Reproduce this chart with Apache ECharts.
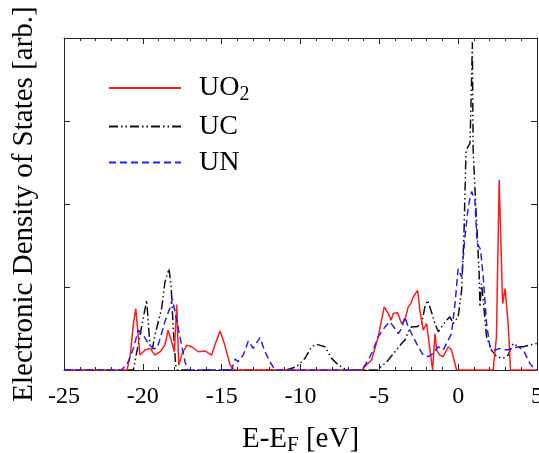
<!DOCTYPE html>
<html>
<head>
<meta charset="utf-8">
<script src="https://cdn.jsdelivr.net/npm/echarts@6/dist/echarts.min.js"></script>
<style>
  html, body { margin: 0; padding: 0; background: #fff; }
  #chart { width: 539px; height: 453px; }
</style>
</head>
<body>
<div id="chart"></div>
<script>
// energies (eV relative to E_F) and DOS values
const uo2E = [-25, -21.0, -20.8, -20.6, -20.45, -20.18, -19.86, -19.55, -19.23, -18.9, -18.6, -18.4, -18.17, -18.0, -17.85, -17.72, -17.5, -17.2, -16.9, -16.48, -16.06, -15.63, -15.43, -15.1, -14.8, -14.47, -14.2,
  -6.12, -5.49, -5.07, -4.69, -4.43, -4.26, -4.12, -3.84, -3.59, -3.38, -3.17, -3.0, -2.85, -2.57, -2.43, -2.22, -2.0, -1.79, -1.62, -1.47, -1.37, -1.16, -0.95, -0.63, -0.42, -0.1,
  2.22, 2.43, 2.6, 2.82, 2.98, 3.17, 3.32, 5];
const uo2DOS = [0, 0, 0.18, 0.55, 0.74, 0.18, 0.24, 0.26, 0.18, 0.22, 0.30, 0.48, 0.34, 0.22, 0.79, 0.06, 0.2, 0.30, 0.28, 0.22, 0.23, 0.18, 0.30, 0.47, 0.30, 0.06, 0,
  0, 0.12, 0.4, 0.76, 0.68, 0.6, 0.68, 0.69, 0.56, 0.6, 0.76, 0.8, 0.88, 0.96, 0.72, 0.48, 0.56, 0.24, 0, 0.44, 0.24, 0.18, 0.16, 0.28, 0.24, 0,
  0, 0.4, 2.29, 0.8, 0.98, 0.56, 0, 0];

const ucE = [-25, -20.6, -20.3, -20.0, -19.76, -19.55, -19.4, -19.23, -18.8, -18.6, -18.34, -18.2, -18.07, -17.92, -17.8,
  -10.9, -10.25, -9.72, -9.3, -8.98, -8.45, -8.03, -7.6, -7.07,
  -5.17, -4.75, -4.43, -4.01, -3.59, -3.38, -3.17, -2.95, -2.64, -2.32, -2.11, -1.94, -1.73, -1.47, -1.26, -1.05, -0.74, -0.52, -0.31, 0.0, 0.22, 0.37, 0.5, 0.6, 0.75, 0.8, 0.85, 0.9, 0.95, 1.15, 1.33, 1.38, 1.48, 1.59, 1.8, 2.12, 2.43, 2.86, 3.17, 3.49, 3.81, 4.13, 4.55, 5];
const ucDOS = [0, 0, 0.3, 0.6, 0.84, 0.3, 0.25, 0.42, 0.75, 1.06, 1.22, 0.99, 0.5, 0.06, 0,
  0, 0.04, 0.14, 0.28, 0.31, 0.28, 0.14, 0.06, 0,
  0, 0.06, 0.12, 0.22, 0.32, 0.36, 0.46, 0.52, 0.52, 0.56, 0.76, 0.84, 0.72, 0.56, 0.46, 0.52, 0.6, 0.64, 0.56, 0.64, 0.96, 1.65, 2.65, 2.67, 2.73, 3.1, 3.5, 3.95, 2.65, 1.85, 1.16, 0.76, 1.04, 0.84, 0.4, 0.24, 0.16, 0.14, 0.18, 0.32, 0.28, 0.28, 0.3, 0.32];

const unE = [-25, -21.34, -20.92, -20.6, -20.29, -19.97, -19.65, -19.34, -19.1, -18.9, -18.6, -18.28, -18.13, -17.96, -17.75, -17.54, -17.33, -17.16,
  -14.37, -14.16, -13.95, -13.63, -13.31, -13.0, -12.57, -12.25, -11.94, -11.62,
  -6.12, -5.7, -5.39, -5.07, -4.64, -4.33, -4.01, -3.8, -3.59, -3.38, -3.17, -2.85, -2.53, -2.22, -1.9, -1.58, -1.26, -0.95, -0.63, -0.42, -0.2, 0.0, 0.22, 0.43, 0.64, 0.85, 1.06, 1.2, 1.42, 1.59, 1.8, 2.01, 2.33, 2.65, 3.07, 3.49, 3.81, 4.13, 4.55, 4.87, 5];
const unDOS = [0, 0, 0.1, 0.26, 0.48, 0.42, 0.32, 0.26, 0.26, 0.38, 0.58, 0.75, 0.86, 0.7, 0.5, 0.3, 0.1, 0,
  0, 0.13, 0.1, 0.18, 0.35, 0.26, 0.39, 0.22, 0.1, 0,
  0, 0.12, 0.24, 0.4, 0.52, 0.58, 0.5, 0.44, 0.5, 0.64, 0.52, 0.4, 0.28, 0.18, 0.16, 0.2, 0.28, 0.24, 0.36, 0.44, 0.8, 1.22, 1.12, 1.6, 1.97, 2.15, 2.05, 1.53, 1.45, 1.12, 0.56, 0.28, 0.24, 0.26, 0.24, 0.26, 0.28, 0.24, 0.08, 0, 0];

const seriesNames = ['UO2', 'UC', 'UN'];
const legendLabels = { UO2: 'UO{sub|2}', UC: 'UC', UN: 'UN' };

const serif = '"Liberation Serif", "DejaVu Serif", serif';
const axisColor = '#222';

function pairs(xs, ys) {
  return xs.map((x, i) => [x, ys[i]]);
}

const chart = echarts.init(document.getElementById('chart'));

const xBase = {
  type: 'value',
  min: -25,
  max: 5,
  interval: 5,
  splitLine: { show: false },
  axisLine: { show: true, onZero: false, lineStyle: { color: axisColor, width: 1 } },
  axisTick: { show: true, inside: true, length: 6, lineStyle: { color: axisColor } },
  minorTick: { show: true, splitNumber: 5, length: 3, lineStyle: { color: axisColor } }
};
const yBase = {
  type: 'value',
  min: 0,
  max: 4,
  interval: 1,
  splitLine: { show: false },
  axisLabel: { show: false },
  axisLine: { show: true, onZero: false, lineStyle: { color: axisColor, width: 1 } },
  axisTick: { show: true, inside: true, length: 6, lineStyle: { color: axisColor } }
};

const option = {
  animation: false,
  backgroundColor: '#fff',
  grid: { left: 64, right: 2, top: 38, bottom: 83, outerBoundsMode: 'none', containLabel: false },
  legend: {
    orient: 'vertical',
    left: 108,
    top: 74,
    padding: 0,
    itemWidth: 72,
    itemHeight: 14,
    itemGap: 8,
    data: seriesNames,
    itemStyle: { opacity: 0 },
    formatter: name => legendLabels[name],
    textStyle: {
      fontFamily: serif,
      fontSize: 28,
      color: '#000',
      lineHeight: 27,
      padding: [0, 0, 0, 13],
      rich: {
        sub: { fontFamily: serif, fontSize: 20, color: '#000', padding: [13, 0, 0, 0] }
      }
    }
  },
  xAxis: [
    Object.assign({}, xBase, {
      position: 'bottom',
      name: 'E-E{sub|F} [eV]',
      nameLocation: 'middle',
      nameGap: 52,
      nameTextStyle: {
        fontFamily: serif, fontSize: 29, color: '#000',
        rich: { sub: { fontFamily: serif, fontSize: 21, color: '#000', padding: [13, 0, 0, 0] } }
      },
      axisLabel: { show: true, margin: 15, fontFamily: serif, fontSize: 24, color: '#000' }
    }),
    Object.assign({}, xBase, { position: 'top', axisLabel: { show: false } })
  ],
  yAxis: [
    Object.assign({}, yBase, {
      position: 'left',
      name: 'Electronic Density of States [arb.]',
      nameLocation: 'middle',
      nameGap: 25,
      nameTextStyle: { fontFamily: serif, fontSize: 29, color: '#000' }
    }),
    Object.assign({}, yBase, { position: 'right' })
  ],
  series: [
    {
      name: 'UO2', type: 'line', symbol: 'none', z: 3,
      data: pairs(uo2E, uo2DOS),
      lineStyle: { color: '#ff1a1a', width: 1.5 },
      itemStyle: { color: '#ff1a1a' }
    },
    {
      name: 'UC', type: 'line', symbol: 'none', z: 2,
      data: pairs(ucE, ucDOS),
      lineStyle: { color: '#111', width: 1.5, type: [9, 3, 1.5, 3, 1.5, 3] },
      itemStyle: { color: '#111' }
    },
    {
      name: 'UN', type: 'line', symbol: 'none', z: 4,
      data: pairs(unE, unDOS),
      lineStyle: { color: '#2020ff', width: 1.5, type: [7, 4] },
      itemStyle: { color: '#2020ff' }
    }
  ]
};

chart.setOption(option);
</script>
</body>
</html>
